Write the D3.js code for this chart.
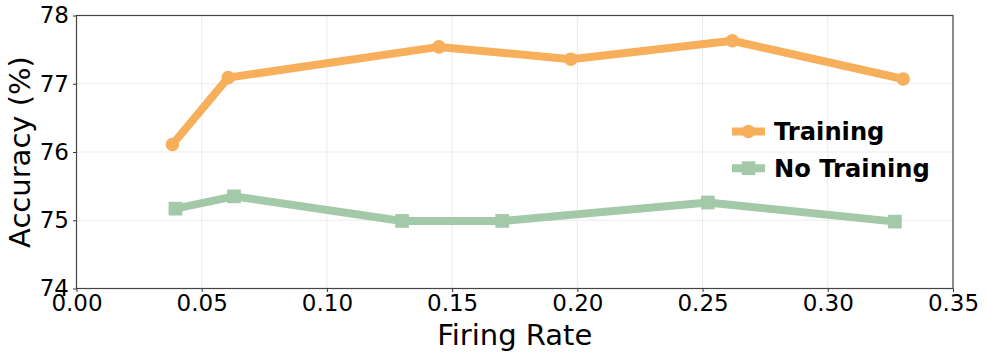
<!DOCTYPE html>
<html>
<head>
<meta charset="utf-8">
<script src="https://cdn.jsdelivr.net/npm/d3@7"></script>
<style>
  body { margin: 0; background: #fff; }
  svg { display: block; font-family: "DejaVu Sans", sans-serif; }
</style>
</head>
<body>
<div id="chart"></div>
<script>
const trainingRate = [0.0383, 0.0606, 0.1447, 0.1974, 0.2619, 0.3301]
const trainingAcc = [76.11, 77.09, 77.54, 77.36, 77.63, 77.07]
const noTrainingRate = [0.0395, 0.0629, 0.130, 0.170, 0.2521, 0.3268]
const noTrainingAcc = [75.17, 75.35, 74.99, 74.99, 75.26, 74.98]
const xTicks = [0, 0.05, 0.10, 0.15, 0.20, 0.25, 0.30, 0.35]
const yTicks = [74, 75, 76, 77, 78]
const seriesNames = ["Training", "No Training"]

const width = 987, height = 358
const margin = ({top: 15.5, right: 34, bottom: 69.5, left: 76.5})
const orange = "rgb(247,175,91)", green = "rgb(163,201,168)"

const series = [
    {name: seriesNames[0], color: orange, shape: "circle",
     points: trainingRate.map((d, i) => ({x: d, y: trainingAcc[i]}))},
    {name: seriesNames[1], color: green, shape: "square",
     points: noTrainingRate.map((d, i) => ({x: d, y: noTrainingAcc[i]}))}
]

const x = d3.scaleLinear().domain([0, 0.35]).range([margin.left, width - margin.right])
const y = d3.scaleLinear().domain([74, 78]).range([height - margin.bottom, margin.top])

const svg = d3.select("#chart").append("svg")
    .attr("width", width)
    .attr("height", height)

// grid
svg.append("g")
    .selectAll("line")
    .data(xTicks)
    .join("line")
    .attr("x1", d => x(d)).attr("x2", d => x(d))
    .attr("y1", margin.top).attr("y2", height - margin.bottom)
    .attr("stroke", "#ebebeb").attr("stroke-width", 1)
svg.append("g")
    .selectAll("line")
    .data(yTicks)
    .join("line")
    .attr("x1", margin.left).attr("x2", width - margin.right)
    .attr("y1", d => y(d)).attr("y2", d => y(d))
    .attr("stroke", "#ebebeb").attr("stroke-width", 1)

// axes
const xAxis = g => g
    .attr("transform", `translate(0,${height - margin.bottom})`)
    .call(d3.axisBottom(x).tickValues(xTicks).tickFormat(d3.format(".2f")).tickSize(3.5).tickPadding(3))
    .attr("font-size", 23)
    .attr("font-family", "DejaVu Sans")
    .call(g => g.select(".domain").remove())
    .call(g => g.selectAll("line").attr("stroke", "#333"))
    .call(g => g.selectAll("text").attr("fill", "#000"))
const yAxis = g => g
    .attr("transform", `translate(${margin.left},0)`)
    .call(d3.axisLeft(y).tickValues(yTicks).tickFormat(d3.format("d")).tickSize(3.5).tickPadding(4))
    .attr("font-size", 23)
    .attr("font-family", "DejaVu Sans")
    .call(g => g.select(".domain").remove())
    .call(g => g.selectAll("line").attr("stroke", "#333"))
    .call(g => g.selectAll("text").attr("fill", "#000"))
svg.append("g").call(xAxis)
svg.append("g").call(yAxis)

// frame
svg.append("rect")
    .attr("x", margin.left).attr("y", margin.top)
    .attr("width", width - margin.left - margin.right)
    .attr("height", height - margin.top - margin.bottom)
    .attr("fill", "none").attr("stroke", "#444").attr("stroke-width", 1.2)

svg.append("text")
    .attr("x", (margin.left + width - margin.right) / 2)
    .attr("y", 345)
    .attr("text-anchor", "middle")
    .attr("font-size", 29)
    .text("Firing Rate")
svg.append("text")
    .attr("transform", `translate(30,${(margin.top + height - margin.bottom) / 2}) rotate(-90)`)
    .attr("text-anchor", "middle")
    .attr("font-size", 29)
    .text("Accuracy (%)")

// lines + markers
const line = d3.line().x(d => x(d.x)).y(d => y(d.y))
const markerPath = (shape, size) => d3.symbol()
    .type(shape === "circle" ? d3.symbolCircle : d3.symbolSquare)
    .size(size)()

series.forEach(s => {
    svg.append("path")
        .datum(s.points)
        .attr("d", line)
        .attr("fill", "none")
        .attr("stroke", s.color)
        .attr("stroke-width", 8)
        .attr("stroke-linejoin", "round")
    svg.append("g")
        .selectAll("path")
        .data(s.points)
        .join("path")
        .attr("transform", d => `translate(${x(d.x)},${y(d.y)})`)
        .attr("d", markerPath(s.shape, s.shape === "circle" ? Math.PI * 6.8 * 6.8 : 13.7 * 13.7))
        .attr("fill", s.color)
})

// legend
const legend = svg.append("g")
    .selectAll("g")
    .data(series)
    .join("g")
    .attr("transform", (d, i) => `translate(732,${131.5 + i * 36.7})`)
legend.append("line")
    .attr("x1", 0).attr("x2", 33)
    .attr("stroke", d => d.color).attr("stroke-width", 8)
legend.append("path")
    .attr("transform", "translate(16.5,0)")
    .attr("d", d => markerPath(d.shape, d.shape === "circle" ? Math.PI * 6.8 * 6.8 : 13.7 * 13.7))
    .attr("fill", d => d.color)
legend.append("text")
    .attr("x", 42)
    .attr("dy", "0.35em")
    .attr("font-size", 24.2)
    .attr("font-weight", "bold")
    .text(d => d.name)
</script>
</body>
</html>
